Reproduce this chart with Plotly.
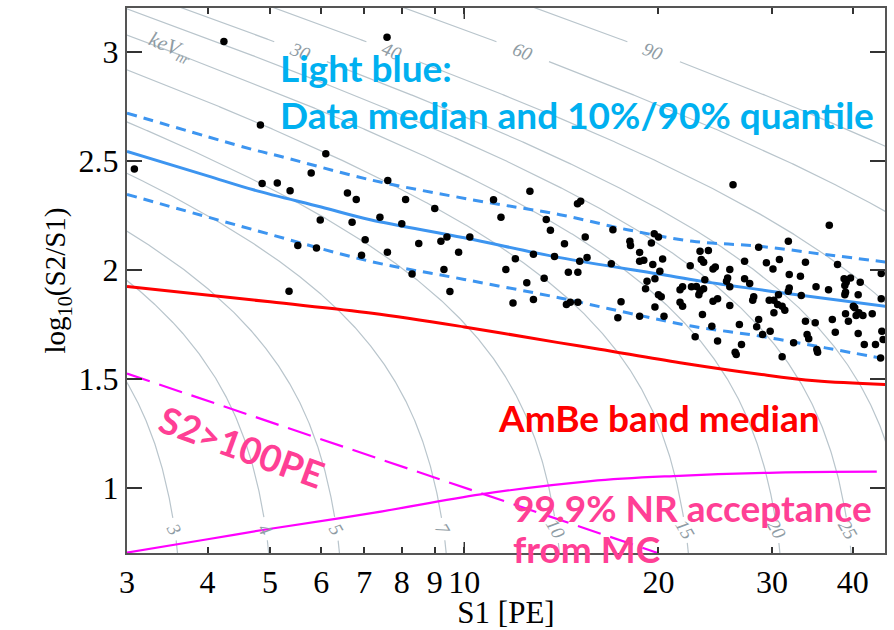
import numpy as np
import plotly.graph_objects as go

# ---------------- data ----------------
# Candidate events: S1 [PE] and log10(S2/S1)
event_s1 = [3.08, 4.24, 4.83, 4.86, 5.13, 5.37, 6.10, 5.79, 6.59, 6.80, 5.98, 6.70, 7.02, 5.52,
            5.90, 6.93, 5.35, 7.59, 7.61, 8.11, 12.64, 26.1, 36.8, 14.98, 15.15, 14.3, 15.4,
            17.0, 18.06, 18.1, 19.7, 20.0, 19.5, 18.7, 18.7, 18.98, 20.3, 19.6, 20.1, 19.75,
            19.2, 19.1, 20.0, 20.2, 19.75, 20.4, 18.7, 17.3, 17.5, 16.9, 15.5, 15.1, 14.5,
            15.0, 14.4, 14.6, 15.0, 22.4, 23.2, 23.9, 23.3, 23.5, 24.3, 24.5, 25.8, 25.6,
            25.5, 23.6, 21.6, 21.8, 22.5, 22.9, 23.2, 23.5, 23.1, 21.6, 21.8, 24.3, 24.7,
            25.8, 23.4, 24.2, 22.8, 24.7, 26.7, 26.9, 26.3, 26.4, 25.8, 27.2, 28.6, 29.4,
            30.1, 30.8, 27.2, 27.7, 28.1, 28.0, 28.6, 28.4, 29.0, 29.8, 29.7, 30.2, 30.7,
            30.6, 31.1, 31.4, 30.2, 31.1, 31.9, 31.8, 31.8, 31.9, 32.4, 33.2, 33.8, 33.3,
            33.8, 34.0, 34.2, 35.1, 35.0, 35.2, 35.3, 36.7, 37.2, 37.6, 37.9, 38.8, 39.1,
            39.7, 38.9, 39.0, 38.9, 41.1, 40.8, 40.1, 40.3, 39.0, 39.4, 40.5, 40.9, 41.5,
            42.9, 40.8, 41.7, 43.4, 44.3, 44.3, 44.4, 44.6, 44.2, 11.9, 12.8,
            9.2, 9.4, 10.2, 9.8, 9.5, 9.3, 11.1, 11.4, 11.6, 12.0, 12.5, 12.8, 13.4, 13.6,
            13.3, 13.8, 8.5, 8.0, 7.6, 8.3, 7.4, 9.0]
event_logr = [2.461, 3.046, 2.663, 2.395, 2.397, 2.362, 2.531, 2.443, 2.351, 2.321, 2.227, 2.217,
              2.137, 2.111, 2.099, 2.066, 1.901, 3.066, 2.409, 2.321, 2.359, 2.389, 2.203, 2.302,
              2.313, 2.119, 2.150, 2.183, 2.130, 2.110, 2.165, 2.150, 2.122, 2.079, 2.038, 2.043,
              2.049, 2.023, 1.992, 1.958, 1.946, 1.912, 1.885, 1.875, 1.829, 1.786, 1.786, 1.779,
              1.852, 2.027, 2.056, 2.038, 1.988, 1.988, 1.840, 1.850, 1.850, 2.018, 2.084, 2.088,
              2.046, 2.034, 2.003, 2.012, 2.000, 1.962, 1.946, 1.954, 1.908, 1.921, 1.921, 1.923,
              1.901, 1.912, 1.885, 1.850, 1.832, 1.855, 1.866, 1.835, 1.794, 1.740, 1.692, 1.672,
              1.748, 1.656, 1.621, 1.611, 1.921, 2.038, 2.102, 2.031, 2.003, 2.046, 1.958, 1.936,
              1.875, 1.859, 1.771, 1.738, 1.702, 1.717, 1.859, 1.859, 1.885, 1.840, 1.832, 1.814,
              1.802, 1.600, 1.977, 2.130, 1.901, 1.916, 1.664, 1.969, 2.034, 1.881, 1.763, 1.702,
              1.683, 1.921, 1.756, 1.634, 1.621, 1.908, 1.771, 1.713, 2.023, 1.958, 1.942, 1.962,
              1.927, 1.896, 1.885, 1.942, 1.885, 1.832, 1.825, 1.798, 1.763, 1.789, 1.802, 1.789,
              1.798, 1.707, 1.656, 1.656, 1.982, 1.866, 1.717, 1.679, 1.595, 1.847, 1.863,
              2.13, 2.15, 2.15, 2.08, 1.90, 2.00, 2.32, 2.24, 2.00, 2.05, 1.94, 2.07, 2.23, 2.18,
              1.96, 2.06, 2.12, 2.21, 2.08, 1.98, 2.24, 2.28]

# Data band: median and 10% / 90% quantiles
median_s1 = [3, 4, 4.71, 6, 7.15, 10, 14.07, 20, 23.4, 30, 45]
median_logr = [2.542, 2.43, 2.366, 2.287, 2.229, 2.146, 2.055, 1.98, 1.946, 1.90, 1.832]
q90_s1 = [3, 4.71, 5.18, 7.15, 10.3, 14.07, 17.9, 22.6, 28.7, 36.3, 45]
q90_logr = [2.718, 2.55, 2.52, 2.412, 2.32, 2.252, 2.183, 2.13, 2.107, 2.069, 2.035]
q10_s1 = [3, 4.71, 7.15, 10, 14.07, 17.9, 22.6, 28.7, 36.3, 45]
q10_logr = [2.345, 2.183, 2.038, 1.955, 1.870, 1.802, 1.74, 1.695, 1.641, 1.59]

# AmBe nuclear-recoil band median
ambe_s1 = [3, 5, 7.2, 10, 14, 16.2, 21.6, 28.7, 35, 45]
ambe_logr = [1.923, 1.852, 1.80, 1.737, 1.665, 1.635, 1.573, 1.52, 1.49, 1.473]

# 99.9% NR acceptance line from MC
acc_s1 = [3, 4, 4.95, 7.26, 10.6, 15.7, 21.1, 30.5, 43.6]
acc_logr = [0.702, 0.763, 0.809, 0.885, 0.969, 1.03, 1.053, 1.069, 1.073]

# S2 threshold cut [PE]
S2_THRESHOLD = 100.0
thr_s1 = [3, 4, 5, 6, 8, 10, 12, 15, 18, 20]

# Nuclear-recoil energy contours [keVnr]
contour_kev = [3, 4, 5, 7, 10, 15, 20, 25, 30, 40, 60, 90]
label_low_kev = [3, 4, 5, 7, 10, 15, 20, 25]
label_high_kev = [30, 40, 60, 90]

x_tickvals = [3, 4, 5, 6, 7, 8, 9, 10, 20, 30, 40]
y_tickvals = [1, 1.5, 2, 2.5, 3]

# detector response used for the energy contours
G1 = 0.097        # PE per photon
G2 = 11.9         # PE per electron
W_KEV = 0.0137    # keV per quantum


def lindhard(e_nr):
    eps = 11.5 * e_nr * 54 ** (-7.0 / 3.0)
    g = 3 * eps ** 0.15 + 0.7 * eps ** 0.6 + eps
    return 0.166 * g / (1 + 0.166 * g)


def s1_intercept(e_nr):
    # S1 + (g1/g2) S2 = g1 * E_ee / W
    return G1 / W_KEV * e_nr * lindhard(e_nr)


GAMMA = G1 / G2
X_MIN, X_MAX = 3.0, 44.9
Y_MIN, Y_MAX = 0.70, 3.20
LOW_LABEL_Y = 0.81
HIGH_LABEL_Y = 3.0


def contour_logr(e_nr, s1):
    k = s1_intercept(e_nr)
    return np.log10((k / s1 - 1) / GAMMA)


def s1_at(e_nr, logr):
    return s1_intercept(e_nr) / (1 + GAMMA * 10 ** logr)


fig = go.Figure()

line_grey = "#b9c5cc"
for e in contour_kev:
    k = s1_intercept(e)
    s1_hi = min(k / (1 + GAMMA * 10 ** 0.55), 46)
    s1 = np.geomspace(2.9, s1_hi, 900)
    lr = contour_logr(e, s1)
    if e in label_low_kev:
        lr = np.where(np.abs(lr - LOW_LABEL_Y) < 0.05, np.nan, lr)
    if e in label_high_kev:
        lr = np.where(np.abs(lr - HIGH_LABEL_Y) < 0.045, np.nan, lr)
    fig.add_trace(go.Scatter(x=s1, y=lr, mode="lines", line=dict(color=line_grey, width=1.2),
                             hoverinfo="skip", showlegend=False))

# thresholds and bands
thr_logr = [np.log10(S2_THRESHOLD / s) for s in thr_s1]
fig.add_trace(go.Scatter(x=thr_s1, y=thr_logr, mode="lines",
                         line=dict(color="#ff00ff", width=2.2, dash="24px,10px"), showlegend=False))
fig.add_trace(go.Scatter(x=acc_s1, y=acc_logr, mode="lines", line_shape="spline",
                         line=dict(color="#ff00ff", width=2.2), showlegend=False))
fig.add_trace(go.Scatter(x=ambe_s1, y=ambe_logr, mode="lines", line_shape="spline",
                         line=dict(color="#ff0000", width=3), showlegend=False))
fig.add_trace(go.Scatter(x=q90_s1, y=q90_logr, mode="lines", line_shape="spline",
                         line=dict(color="#3d95f0", width=3, dash="10px,7px"), showlegend=False))
fig.add_trace(go.Scatter(x=q10_s1, y=q10_logr, mode="lines", line_shape="spline",
                         line=dict(color="#3d95f0", width=3, dash="10px,7px"), showlegend=False))
fig.add_trace(go.Scatter(x=median_s1, y=median_logr, mode="lines", line_shape="spline",
                         line=dict(color="#3d95f0", width=3), showlegend=False))
fig.add_trace(go.Scatter(x=event_s1, y=event_logr, mode="markers",
                         marker=dict(color="black", size=7.5), showlegend=False))

annotations = []
label_font = dict(family="Liberation Serif", size=19, color="#8f9ca4")
for e in label_low_kev:
    annotations.append(dict(x=np.log10(s1_at(e, LOW_LABEL_Y)), y=LOW_LABEL_Y, xref="x", yref="y",
                            text=f"<i>{e}</i>", showarrow=False, textangle=60, font=label_font))
for e in label_high_kev:
    annotations.append(dict(x=np.log10(s1_at(e, HIGH_LABEL_Y)), y=HIGH_LABEL_Y, xref="x", yref="y",
                            text=f"<i>{e}</i>", showarrow=False, textangle=22, font=label_font))
annotations.append(dict(x=np.log10(3.5), y=3.02, xref="x", yref="y", text="<i>keV<sub>nr</sub></i>",
                        showarrow=False, textangle=22, font=dict(family="Liberation Serif", size=21,
                                                                   color="#8f9ca4")))

big = dict(family="Lato", size=37)
blue_txt = "#00b0f0"
pink_txt = "#ff3f95"
annotations += [
    dict(x=0.199, y=0.89, xref="paper", yref="paper", xanchor="left", yanchor="middle",
         text="<b>Light blue:</b>", showarrow=False, font=dict(**big, color=blue_txt)),
    dict(x=0.199, y=0.804, xref="paper", yref="paper", xanchor="left", yanchor="middle",
         text="<b>Data median and 10%/90% quantile</b>", showarrow=False,
         font=dict(**big, color=blue_txt)),
    dict(x=0.487, y=0.248, xref="paper", yref="paper", xanchor="left", yanchor="middle",
         text="<b>AmBe band median</b>", showarrow=False, font=dict(**big, color="#ff0000")),
    dict(x=0.152, y=0.195, xref="paper", yref="paper", xanchor="center", yanchor="middle",
         text="<b>S2>100PE</b>", showarrow=False, textangle=20, font=dict(**big, color=pink_txt)),
    dict(x=0.506, y=0.083, xref="paper", yref="paper", xanchor="left", yanchor="middle",
         text="<b>99.9% NR acceptance</b>", showarrow=False, font=dict(**big, color=pink_txt)),
    dict(x=0.506, y=0.009, xref="paper", yref="paper", xanchor="left", yanchor="middle",
         text="<b>from MC</b>", showarrow=False, font=dict(**big, color=pink_txt)),
]

# longer decade tick at S1 = 10 (bottom and top)
frac10 = (np.log10(10) - np.log10(X_MIN)) / (np.log10(X_MAX) - np.log10(X_MIN))
shapes = [
    dict(type="line", xref="paper", yref="paper", x0=frac10, x1=frac10, y0=0, y1=11 / 545,
         line=dict(color="#333", width=1.5)),
    dict(type="line", xref="paper", yref="paper", x0=frac10, x1=frac10, y0=1, y1=1 - 11 / 545,
         line=dict(color="#333", width=1.5)),
]

tick_font = dict(family="Liberation Serif", size=32, color="black")
fig.update_layout(
    width=894, height=630,
    margin=dict(l=127, r=9, t=8, b=77),
    paper_bgcolor="white", plot_bgcolor="white",
    annotations=annotations, shapes=shapes,
    xaxis=dict(type="log", range=[np.log10(X_MIN), np.log10(X_MAX)], automargin=False,
               tickvals=x_tickvals, ticktext=[str(v) for v in x_tickvals],
               ticks="inside", ticklen=6, tickwidth=1.5, tickcolor="#333",
               showline=True, linecolor="#555", linewidth=2, mirror="ticks",
               showgrid=False, zeroline=False, tickfont=tick_font,
               title=dict(text="S1 [PE]", font=dict(family="Liberation Serif", size=31,
                                                     color="black"), standoff=6)),
    yaxis=dict(range=[Y_MIN, Y_MAX], tickvals=y_tickvals, automargin=False,
               ticktext=["1", "1.5", "2", "2.5", "3"],
               ticks="inside", ticklen=15, tickwidth=1.5, tickcolor="#333",
               showline=True, linecolor="#555", linewidth=2, mirror="ticks",
               showgrid=False, zeroline=False, tickfont=tick_font,
               title=dict(text="log<sub>10</sub>(S2/S1)",
                          font=dict(family="Liberation Serif", size=29, color="black"),
                          standoff=4)),
)

fig.write_html("out.html")
